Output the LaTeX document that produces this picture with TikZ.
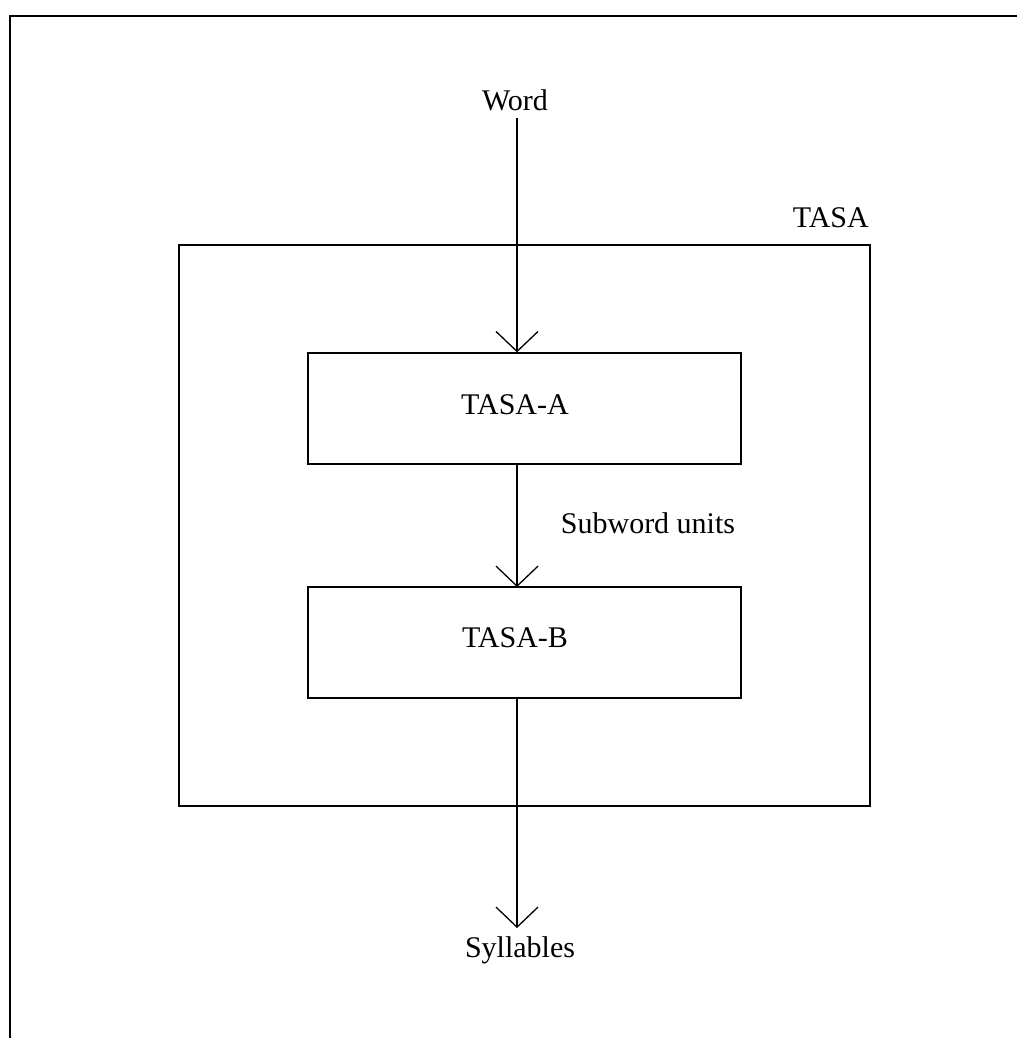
\documentclass[tikz,border=0pt]{standalone}
\usepackage{fontspec}
\setmainfont{Liberation Serif}
\usetikzlibrary{arrows.meta}
\begin{document}
\begin{tikzpicture}[x=1pt,y=-1pt,
  frame/.style={line width=1.7pt},
  box/.style={draw,line width=1.3pt,minimum width=433pt,minimum height=111pt,inner sep=0pt},
  lbl/.style={font=\fontsize{30}{35}\selectfont,inner sep=0pt},
  arr/.style={line width=1.3pt,-{Straight Barb[length=20pt,width=42pt,line width=1.3pt]}}]
\useasboundingbox (0,0) rectangle (1017,1038);
\draw[frame] (1017,16) -- (10,16) -- (10,1038);
\node[draw,line width=1.3pt,minimum width=691pt,minimum height=561pt,inner sep=0pt] (T) at (524.5,525.5) {};
\node[lbl,anchor=base east] (Tl) at (869,227) {TASA};
\node[box] (A) at (524.5,408.5) {};
\node[box] (B) at (524.5,642.5) {};
\node[lbl] (At) at (515,405) {TASA-A};
\node[lbl] (Bt) at (515,638) {TASA-B};
\node[lbl] (W) at (515,100) {Word};
\node[lbl] (S) at (520,950) {Syllables};
\node[lbl] (U) at (648,523) {Subword units};
\coordinate (Wb) at (517,118);
\coordinate (As) at (517,464);
\coordinate (Bn) at (517,587);
\coordinate (Bs) at (517,698);
\coordinate (Sn) at (517,928);
\draw[arr] (Wb) -- (Wb |- A.north);
\draw[arr] (As) -- (Bn);
\draw[arr] (Bs) -- (Sn);
\end{tikzpicture}
\end{document}
